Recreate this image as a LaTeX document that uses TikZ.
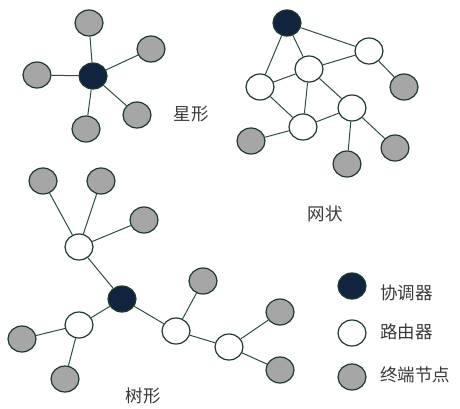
\documentclass[tikz,border=0pt]{standalone}
\usepackage{fontspec}
\usetikzlibrary{shapes.geometric}
\newfontfamily\cjk{Noto Sans CJK SC}
\definecolor{coordfill}{HTML}{10243F}
\definecolor{nodeline}{HTML}{1E3A28}
\definecolor{linkcol}{HTML}{2E4E3C}
\definecolor{endfill}{HTML}{A6A6A6}
\definecolor{txt}{HTML}{3A3A3A}
\begin{document}
\begin{tikzpicture}[x=1pt,y=-1pt,
  dev/.style={ellipse,draw=nodeline,line width=1.2pt,minimum width=28pt,minimum height=26pt,inner sep=0pt},
  coord/.style={dev,fill=coordfill},
  router/.style={dev,fill=white},
  enddev/.style={dev,fill=endfill},
  link/.style={draw=linkcol,line width=1pt},
  lbl/.style={font=\cjk\fontsize{17.5}{17.5}\selectfont,text=txt,inner sep=0pt},
  ]
\useasboundingbox (0,0) rectangle (460,408);

% star topology
\node[coord]   (sc) at (93,76) {};
\node[enddev]  (s1) at (89,23) {};
\node[enddev]  (s2) at (151,49) {};
\node[enddev]  (s3) at (37,75) {};
\node[enddev]  (s4) at (137,115) {};
\node[enddev]  (s5) at (86,129) {};
\foreach \e in {s1,s2,s3,s4,s5} \draw[link] (sc) -- (\e);
\node[lbl] (starlbl) at (191,114) {星形};

% mesh topology
\node[coord]  (mc) at (287,23) {};
\node[router] (m1) at (369,51) {};
\node[router] (m2) at (309,69) {};
\node[router] (m3) at (260,87) {};
\node[router] (m4) at (352,108) {};
\node[router] (m5) at (303,127) {};
\node[enddev] (me1) at (404,87) {};
\node[enddev] (me2) at (251,141) {};
\node[enddev] (me3) at (347,164) {};
\node[enddev] (me4) at (395,148) {};
\foreach \a/\b in {mc/m3,mc/m2,mc/m1,m1/m2,m1/me1,m2/m3,m2/m5,m2/m4,m3/m5,m5/m4,m5/me2,m4/me3,m4/me4}
  \draw[link] (\a) -- (\b);
\node[lbl] (meshlbl) at (325,214) {网状};

% tree topology
\node[coord]  (tc) at (122,299) {};
\node[router] (tr1) at (79,247) {};
\node[router] (tr2) at (79,325) {};
\node[router] (tr3) at (176,331) {};
\node[router] (tr4) at (229,347) {};
\node[enddev] (te1) at (43,181) {};
\node[enddev] (te2) at (101,181) {};
\node[enddev] (te3) at (144,220) {};
\node[enddev] (te4) at (22,339) {};
\node[enddev] (te5) at (65,379) {};
\node[enddev] (te6) at (203,281) {};
\node[enddev] (te7) at (280,312) {};
\node[enddev] (te8) at (280,370) {};
\foreach \a/\b in {tc/tr1,tr1/te1,tr1/te2,tr1/te3,tc/tr2,tr2/te4,tr2/te5,tc/tr3,tr3/te6,tr3/tr4,tr4/te7,tr4/te8}
  \draw[link] (\a) -- (\b);
\node[lbl] (treelbl) at (143,396) {树形};

% legend
\node[coord]  (lg1) at (352,286) {};
\node[router] (lg2) at (352,333) {};
\node[enddev] (lg3) at (352,377) {};
\node[lbl,anchor=west] (lt1) at (380,293) {协调器};
\node[lbl,anchor=west] (lt2) at (380,332) {路由器};
\node[lbl,anchor=west] (lt3) at (380,375) {终端节点};
\end{tikzpicture}
\end{document}
